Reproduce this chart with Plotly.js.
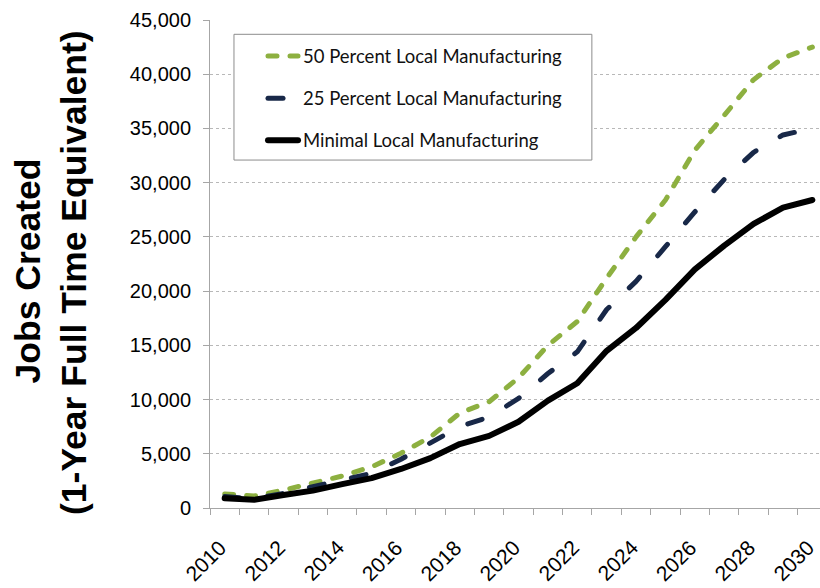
<!DOCTYPE html>
<html>
<head>
<meta charset="utf-8">
<script src="https://cdn.plot.ly/plotly-3.0.1.min.js"></script>
<style>
  html, body { margin: 0; padding: 0; background: #fff; }
  #chart { width: 820px; height: 588px; }
  path.js-line { stroke-linecap: round; stroke-linejoin: round; }
</style>
</head>
<body>
<div id="chart"></div>
<script>
const years = [2010,2011,2012,2013,2014,2015,2016,2017,2018,2019,2020,2021,2022,2023,2024,2025,2026,2027,2028,2029,2030];
const xTickLabels = ["2010","2012","2014","2016","2018","2020","2022","2024","2026","2028","2030"];
const xTickYears = [2010,2012,2014,2016,2018,2020,2022,2024,2026,2028,2030];
const seriesNames = ["50 Percent Local Manufacturing", "25 Percent Local Manufacturing", "Minimal Local Manufacturing"];
const pct50 = [1300,1100,1650,2300,2950,3800,5050,6550,8750,9800,12000,15000,17200,21200,25000,28400,33000,36200,39500,41500,42500];
const pct25 = [1050,850,1350,1950,2600,3200,4500,6000,7500,8400,10100,12400,14400,18300,20900,24100,27300,30300,32800,34400,35000];
const minimal = [900,750,1200,1600,2200,2750,3600,4600,5900,6650,7950,9900,11500,14500,16600,19200,22000,24200,26200,27700,28400];
const yTicks = [0,5000,10000,15000,20000,25000,30000,35000,40000,45000];
const yTitleLines = ["Jobs Created", "(1-Year Full Time Equivalent)"];

const traces = [
  {x: years, y: pct50, name: seriesNames[0], mode: 'lines', legendgroup: 'a',
   line: {color: '#8DB040', width: 5, dash: '9px,13px'}},
  {x: years, y: pct25, name: seriesNames[1], mode: 'lines', legendgroup: 'b',
   line: {color: '#182848', width: 5, dash: '15px,28px'}},
  {x: years, y: minimal, name: seriesNames[2], mode: 'lines', legendgroup: 'c',
   line: {color: '#000000', width: 6}}
];

const tickFont = {size: 21, family: 'Liberation Sans, Arial, sans-serif', color: '#000'};
const xLabelAnnots = xTickYears.map((yr, i) => ({
  xref: 'x', yref: 'paper', x: yr, y: 0,
  xshift: -19, yshift: -52,
  xanchor: 'center', yanchor: 'middle', showarrow: false,
  textangle: -45, text: xTickLabels[i], font: tickFont
}));

const titleFont = {family: 'Liberation Sans, Arial, sans-serif', size: 35.5, weight: 'bold', color: '#000'};

const layout = {
  width: 820, height: 588,
  margin: {l: 210, r: 0, t: 20, b: 80},
  paper_bgcolor: '#fff', plot_bgcolor: '#fff',
  showlegend: true,
  font: {family: 'Liberation Sans, Arial, sans-serif', color: '#000'},
  xaxis: {
    range: [2009.5, 2030.26],
    tickmode: 'array', tickvals: xTickYears, ticktext: xTickLabels,
    showticklabels: false, ticks: '', showgrid: false, zeroline: false,
    showline: true, linecolor: '#a6a6a6', linewidth: 1,
    minor: {ticks: 'outside', tick0: 2009.5, dtick: 1, ticklen: 6, tickcolor: '#a6a6a6', showgrid: false}
  },
  yaxis: {
    range: [0, 45000], tickmode: 'array', tickvals: yTicks,
    tickformat: ',d', ticks: 'outside', ticklen: 6, tickcolor: '#a6a6a6',
    showline: true, linecolor: '#a6a6a6', linewidth: 1, zeroline: false,
    showgrid: true, gridcolor: '#b8b8b8', griddash: 'dot', gridwidth: 1,
    tickfont: {size: 20, family: 'Liberation Sans, Arial, sans-serif', color: '#000'},
    ticklabelstandoff: 8
  },
  legend: {
    x: 0.0869, xanchor: 'left', y: 0.964, yanchor: 'top',
    bgcolor: 'rgba(0,0,0,0)', borderwidth: 0,
    traceorder: 'grouped', tracegroupgap: 15,
    font: {family: 'Lato, sans-serif', size: 18.5, color: '#111'}
  },
  shapes: [{
    type: 'rect', xref: 'paper', yref: 'paper', layer: 'above',
    x0: 0.0393, x1: 0.626, y0: 0.713, y1: 0.9707,
    line: {color: '#8c8c8c', width: 1}, fillcolor: '#ffffff'
  }],
  annotations: [
    {xref: 'paper', yref: 'paper', x: -0.2992, y: 0.4857,
     xanchor: 'center', yanchor: 'middle', showarrow: false,
     textangle: -90, text: yTitleLines[0], font: titleFont},
    {xref: 'paper', yref: 'paper', x: -0.2221, y: 0.4826,
     xanchor: 'center', yanchor: 'middle', showarrow: false,
     textangle: -90, text: yTitleLines[1], font: titleFont}
  ].concat(xLabelAnnots)
};

Plotly.newPlot('chart', traces, layout, {displayModeBar: false, staticPlot: true});
</script>
</body>
</html>
